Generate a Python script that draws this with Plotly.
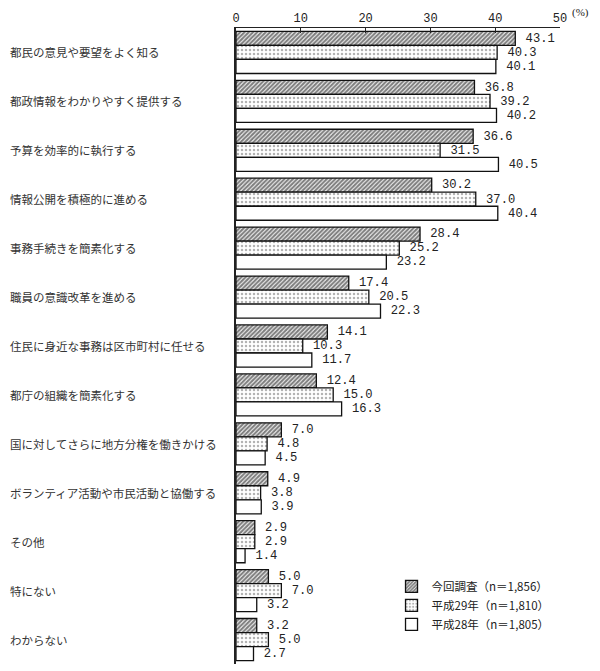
import plotly.graph_objects as go

categories = [
    "都民の意見や要望をよく知る",
    "都政情報をわかりやすく提供する",
    "予算を効率的に執行する",
    "情報公開を積極的に進める",
    "事務手続きを簡素化する",
    "職員の意識改革を進める",
    "住民に身近な事務は区市町村に任せる",
    "都庁の組織を簡素化する",
    "国に対してさらに地方分権を働きかける",
    "ボランティア活動や市民活動と協働する",
    "その他",
    "特にない",
    "わからない",
]
current = [43.1, 36.8, 36.6, 30.2, 28.4, 17.4, 14.1, 12.4, 7.0, 4.9, 2.9, 5.0, 3.2]
h29 = [40.3, 39.2, 31.5, 37.0, 25.2, 20.5, 10.3, 15.0, 4.8, 3.8, 2.9, 7.0, 5.0]
h28 = [40.1, 40.2, 40.5, 40.4, 23.2, 22.3, 11.7, 16.3, 4.5, 3.9, 1.4, 3.2, 2.7]
series_names = ["今回調査（n＝1,856）", "平成29年（n＝1,810）", "平成28年（n＝1,805）"]
x_ticks = [0, 10, 20, 30, 40, 50]

num_font = dict(family="Liberation Mono, DejaVu Sans Mono, monospace", size=13, color="#222")

patterns = [
    dict(shape="/", fgcolor="#000", bgcolor="white", size=3, solidity=0.7),
    dict(shape=".", fgcolor="#666", bgcolor="white", size=4, solidity=0.3),
    dict(shape="", fgcolor="#000", bgcolor="white"),
]

fig = go.Figure()
for name, vals, pat in zip(series_names, [current, h29, h28], patterns):
    fig.add_trace(go.Bar(
        y=categories, x=vals, orientation="h", name=name,
        marker=dict(color="white", pattern=pat, line=dict(color="#111", width=1.3)),
        text=[f" {v:.1f}" for v in vals], textposition="outside",
        textfont=num_font, cliponaxis=False,
    ))

PLOT_L, PLOT_R = 236, 560
pw = PLOT_R - PLOT_L
for c in categories:
    fig.add_annotation(
        x=-(PLOT_L - 8) / pw, xref="paper", y=c, yref="y",
        text=c, showarrow=False, xanchor="left",
        font=dict(family="Noto Sans CJK JP", size=11.5, color="#333"),
    )

fig.add_annotation(x=1.03, xref="paper", y=1, yref="paper", yanchor="middle", yshift=16,
                   text="(%)", showarrow=False, xanchor="left",
                   font=dict(family="Liberation Serif", size=11, color="#222"))

fig.update_layout(
    width=600, height=671,
    margin=dict(l=PLOT_L, r=600 - PLOT_R, t=28, b=7),
    plot_bgcolor="white", paper_bgcolor="white",
    barmode="group", bargap=0.14, bargroupgap=0,
    showlegend=True,
    legend=dict(x=0.48, y=0.145, xanchor="left", yanchor="top",
                font=dict(family="Noto Sans CJK JP", size=11.5, color="#222"),
                bgcolor="rgba(0,0,0,0)", itemwidth=30, tracegroupgap=2),
    xaxis=dict(side="top", range=[0, 50], tickvals=x_ticks, ticktext=[str(t) for t in x_ticks],
               ticks="inside", ticklen=5, tickcolor="#222", showline=True, linecolor="#222",
               linewidth=1, showgrid=False, zeroline=False,
               tickfont=dict(family="Liberation Mono, monospace", size=12, color="#222")),
    yaxis=dict(autorange="reversed", showticklabels=False, showline=True, linecolor="#222",
               linewidth=1.5, ticks="", showgrid=False),
)

fig.write_html("out.html")
